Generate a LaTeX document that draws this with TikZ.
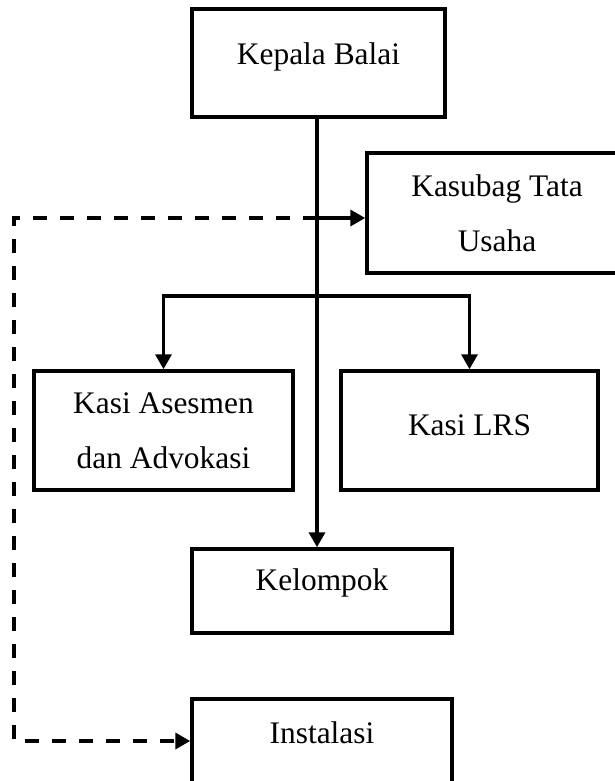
\documentclass[tikz,border=0pt]{standalone}
\usepackage{fontspec}
\setmainfont{Liberation Serif}
\usetikzlibrary{arrows.meta}

\begin{document}
\begin{tikzpicture}[>={Triangle[length=15pt,width=16pt]},x=1pt,y=-1pt,
  box/.style={draw,line width=3.5pt,inner sep=0pt,align=center,
    font=\fontsize{31.4}{55}\selectfont},
  line/.style={line width=3.5pt},
  dashline/.style={line width=3.5pt,dash pattern=on 14pt off 13pt}]

\useasboundingbox (0,0) rectangle (615,781);
\clip (0,0) rectangle (615,781);

\node (kepala) at (318.5,63) [box,minimum width=253pt,minimum height=108pt,
  text depth=18pt] {Kepala Balai};
\node (kasubag) at (497,213) [box,minimum width=260pt,minimum height=120pt]
  {Kasubag Tata\\Usaha};
\node (asesmen) at (163.5,430.5) [box,minimum width=259pt,minimum height=119pt]
  {Kasi Asesmen\\dan Advokasi};
\node (lrs) at (469.5,430.5) [box,minimum width=257pt,minimum height=119pt,
  text depth=11pt] {Kasi LRS};
\node (kelompok) at (322,591) [box,minimum width=260pt,minimum height=84pt,
  text depth=22pt] {Kelompok};
\node (instalasi) at (322,741) [box,minimum width=260pt,minimum height=84pt,
  text depth=17pt] {Instalasi};

\coordinate (tu) at (317,218);
\coordinate (fork) at (317,296);
\coordinate (left) at (14,218);

\draw[->,line] (kepala.south -| tu) -- (tu |- kelompok.north);
\draw[->,line] (tu) -- (tu -| kasubag.west);
\draw[->,line] (fork) -| (asesmen.north);
\draw[->,line] (fork) -| (lrs.north);
\draw[->,dashline] (tu) -- (left) |- (instalasi.west);

\end{tikzpicture}
\end{document}
